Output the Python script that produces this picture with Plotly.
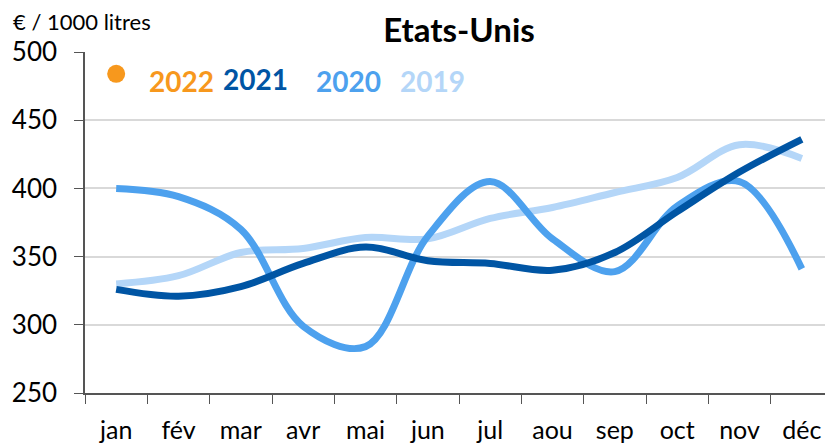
import plotly.graph_objects as go

months = ["jan", "fév", "mar", "avr", "mai", "jun", "jul", "aou", "sep", "oct", "nov", "déc"]
y2019 = [330, 336, 353, 356, 364, 363, 378, 386, 397, 408, 432, 422]
y2020 = [400, 394, 370, 299, 284, 365, 405, 363, 339, 387, 405, 341]
y2021 = [326, 321, 328, 345, 357, 347, 345, 340, 353, 383, 412, 436]
y2022 = [484]
years = ["2022", "2021", "2020", "2019"]

c2019 = "#B4D6F8"
c2020 = "#4DA1EE"
c2021 = "#0055A4"
c2022 = "#F7981D"

FONT = "Lato, Carlito, Calibri, sans-serif"

fig = go.Figure()
fig.add_trace(go.Scatter(x=months, y=y2019, mode="lines",
                         line=dict(color=c2019, width=7, shape="spline", smoothing=1.0)))
fig.add_trace(go.Scatter(x=months, y=y2020, mode="lines",
                         line=dict(color=c2020, width=7, shape="spline", smoothing=1.0)))
fig.add_trace(go.Scatter(x=months, y=y2021, mode="lines",
                         line=dict(color=c2021, width=7, shape="spline", smoothing=1.0)))
fig.add_trace(go.Scatter(x=months[:1], y=y2022, mode="markers",
                         marker=dict(color=c2022, size=18)))

# page has an 8px body margin; the figure is sized so it ends at the window edge
OFF = 8
W, H = 833 - OFF, 445 - OFF
L, R, T, B = 85 - OFF, 0, 52 - OFF, 52
pw, ph = W - L - R, H - T - B

def px(x):
    return (x - OFF - L) / pw

def py(y):
    return (H + OFF - B - y) / ph

legend_pos = [(181, 81, c2022), (255, 79, c2021), (348, 81, c2020), (432, 81, c2019)]
for (xx, yy, col), lab in zip(legend_pos, years):
    fig.add_annotation(x=px(xx), y=py(yy), xref="paper", yref="paper", text="<b>%s</b>" % lab,
                       showarrow=False, font=dict(family=FONT, size=28, color=col),
                       xanchor="center", yanchor="middle")

fig.add_annotation(x=px(12), y=py(21), xref="paper", yref="paper", text="€ / 1000 litres",
                   showarrow=False, font=dict(family=FONT, size=22, color="#000"),
                   xanchor="left", yanchor="middle", borderpad=0)

fig.update_layout(
    width=W, height=H,
    margin=dict(l=L, r=R, t=T, b=B, pad=0),
    paper_bgcolor="white", plot_bgcolor="white",
    showlegend=False,
    title=dict(text="<b>Etats-Unis</b>", x=(459 - OFF) / W, xanchor="center",
               y=1 - (30 - OFF) / H, yanchor="middle",
               font=dict(family=FONT, size=33, color="#000")),
    font=dict(family=FONT, color="#000"),
)
fig.update_xaxes(type="category", tickson="boundaries", ticks="outside", ticklen=9,
                 tickcolor="#555", showline=True, linecolor="#555", linewidth=1.5,
                 showgrid=False, tickfont=dict(family=FONT, size=25, color="#000"),
                 range=[-0.5, 11.5], automargin=False, ticklabelstandoff=14)
fig.update_yaxes(range=[250, 500], dtick=50, ticks="outside", ticklen=9, tickcolor="#555",
                 showline=True, linecolor="#555", linewidth=1.5,
                 showgrid=True, gridcolor="#D9D9D9", gridwidth=1.5, zeroline=False,
                 tickfont=dict(family=FONT, size=26, color="#000"),
                 automargin=False, ticklabelstandoff=12)

fig.write_html("out.html")
